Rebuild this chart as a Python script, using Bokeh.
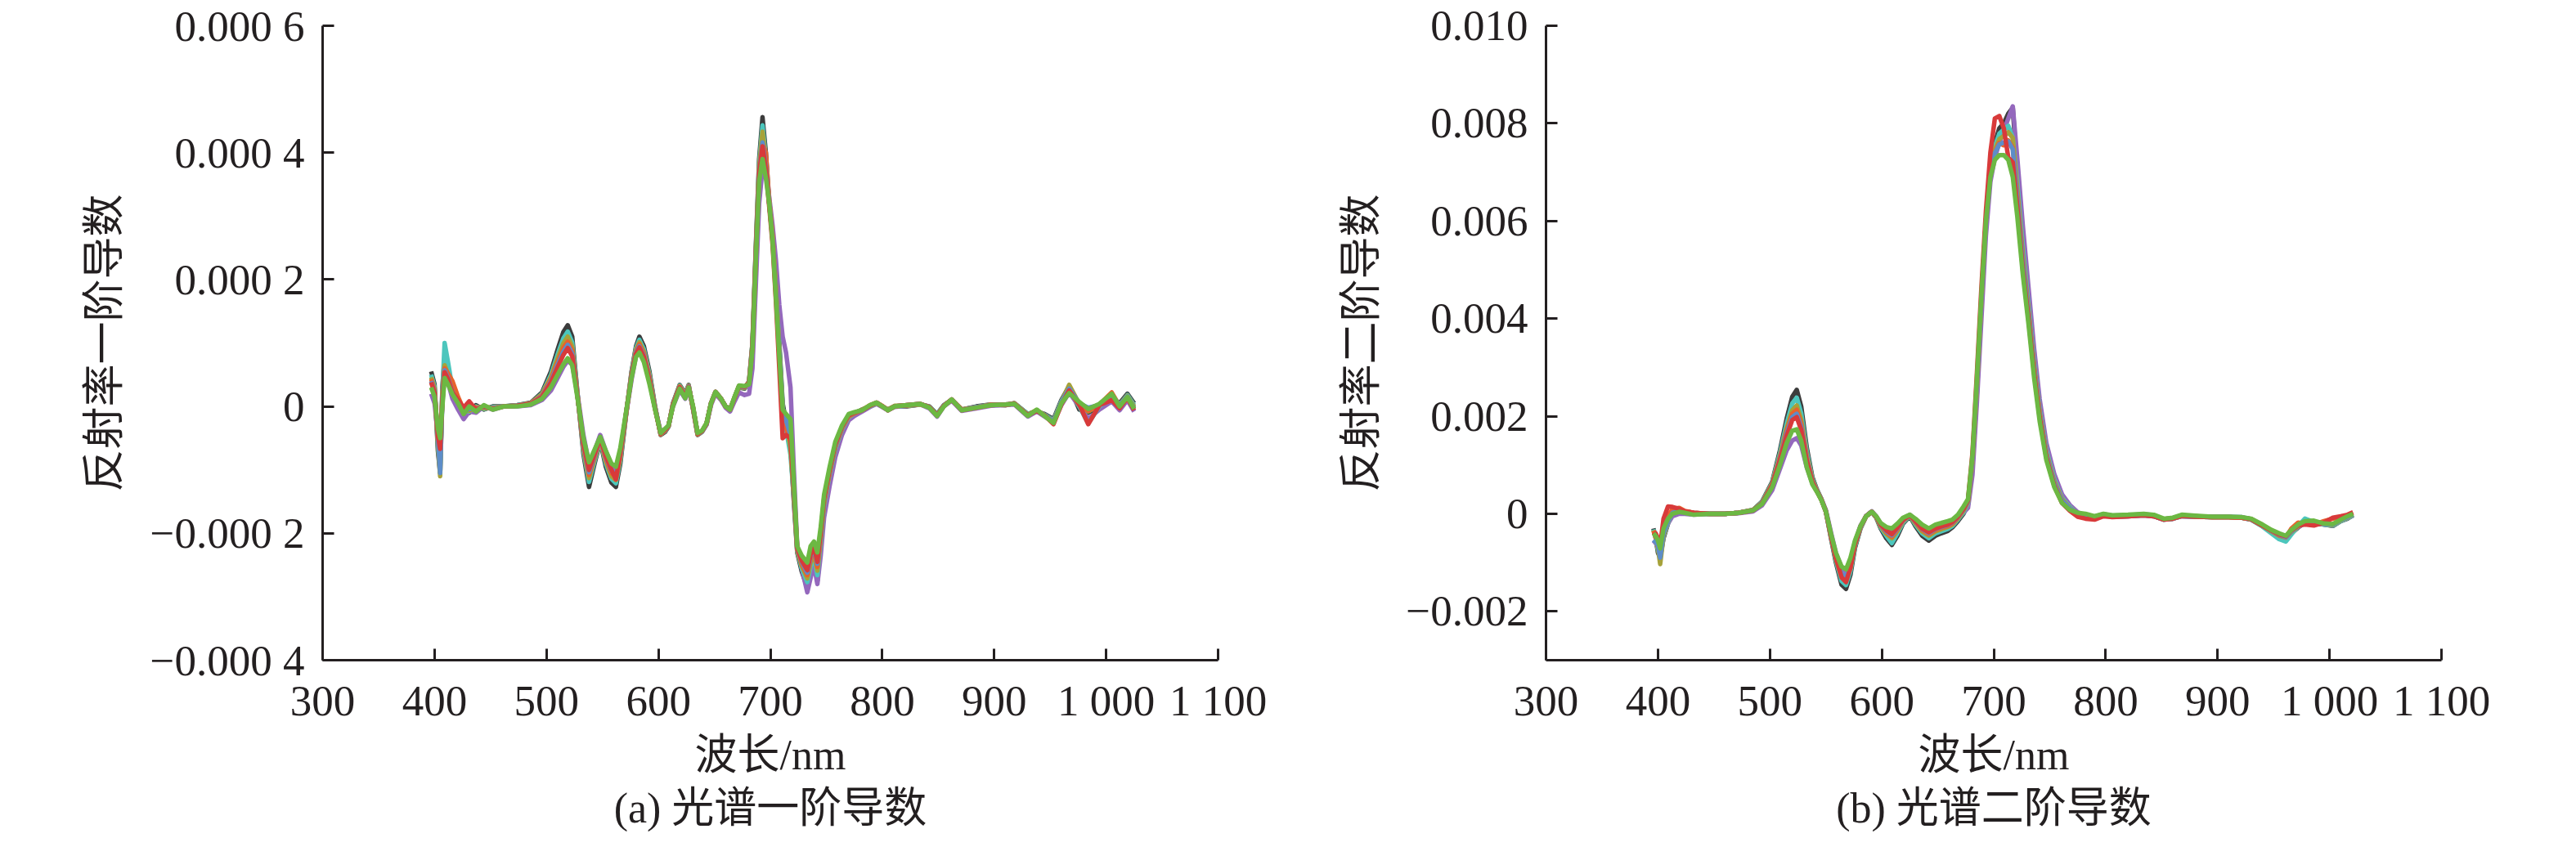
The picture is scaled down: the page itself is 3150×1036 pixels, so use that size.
from bokeh.plotting import figure
from bokeh.layouts import row
from bokeh.models import FixedTicker, Title
from bokeh.embed import file_html
from bokeh.resources import INLINE

# ---------------- data: panel (a) first derivative, values in units of 1e-4 ----------------
wl_a = [397, 400, 403, 405, 407, 409, 412, 416, 421, 426,
        431, 437, 444, 452, 462, 474, 486, 496, 504, 510,
        515, 519, 523, 528, 533, 538, 543, 548, 553, 558,
        562, 566, 571, 576, 580, 583, 587, 592, 597, 602,
        606, 609, 613, 619, 624, 627, 631, 635, 639, 643,
        647, 651, 656, 660, 664, 668, 672, 677, 681, 684,
        687, 690, 693, 696, 699, 702, 705, 708, 711, 714,
        718, 721, 724, 728, 733, 736, 739, 742, 745, 748,
        753, 758, 764, 770, 775, 782, 789, 795, 800, 805,
        811, 822, 834, 842, 849, 855, 862, 871, 884, 897,
        910, 918, 930, 938, 945, 953, 960, 967, 976, 984,
        994, 1005, 1012, 1019, 1025]

a_gray = [0.55, 0.35, -0.70, -1.05, 0.30, 0.75, 0.60, 0.30, 0.10, -0.05,
          -0.10, 0.02, -0.05, 0.00, 0.00, 0.02, 0.06, 0.22, 0.55, 0.90,
          1.17, 1.28, 1.10, 0.15, -0.75, -1.27, -0.90, -0.55, -0.95, -1.20,
          -1.27, -0.90, -0.15, 0.55, 0.95, 1.10, 0.95, 0.55, 0.00, -0.45,
          -0.40, -0.32, 0.05, 0.34, 0.20, 0.34, -0.05, -0.45, -0.40, -0.28,
          0.05, 0.22, 0.12, 0.00, -0.05, 0.12, 0.30, 0.28, 0.40, 1.00,
          2.50, 3.90, 4.56, 4.00, 3.20, 2.70, 1.90, 1.00, 0.05, -0.25,
          -0.60, -1.50, -2.30, -2.60, -2.85, -2.60, -2.40, -2.75, -2.20, -1.60,
          -1.10, -0.70, -0.38, -0.18, -0.12, -0.05, 0.00, 0.05, 0.00, -0.05,
          0.00, 0.00, 0.03, 0.00, -0.12, 0.02, 0.10, -0.05, 0.00, 0.03,
          0.02, 0.05, -0.12, -0.08, -0.12, -0.20, 0.10, 0.32, -0.05, -0.10,
          0.00, 0.12, 0.05, 0.20, 0.05]

a_purple = [0.20, 0.05, -0.45, -0.85, 0.05, 0.50, 0.38, 0.12, -0.05, -0.20,
            -0.08, -0.10, 0.00, -0.05, 0.00, 0.00, 0.02, 0.10, 0.25, 0.45,
            0.62, 0.72, 0.66, 0.16, -0.45, -0.90, -0.70, -0.45, -0.70, -0.92,
            -1.00, -0.72, -0.14, 0.42, 0.80, 0.90, 0.76, 0.40, -0.02, -0.40,
            -0.37, -0.30, 0.00, 0.26, 0.12, 0.27, -0.03, -0.42, -0.40, -0.29,
            0.02, 0.20, 0.10, -0.02, -0.08, 0.08, 0.22, 0.18, 0.20, 0.60,
            1.90, 3.20, 3.75, 3.70, 3.30, 2.85, 2.30, 1.60, 1.10, 0.85,
            0.30, -1.00, -2.20, -2.55, -2.93, -2.70, -2.50, -2.80, -2.35, -1.75,
            -1.25, -0.80, -0.45, -0.22, -0.15, -0.08, -0.01, 0.04, -0.01, -0.06,
            -0.01, 0.01, 0.03, -0.03, -0.16, 0.00, 0.09, -0.07, -0.03, 0.01,
            0.02, 0.03, -0.16, -0.08, -0.16, -0.25, 0.02, 0.22, 0.00, -0.20,
            -0.05, 0.08, -0.06, 0.10, -0.08]

a_cyan = [0.50, 0.31, -0.63, -0.94, 0.24, 1.00, 0.70, 0.28, 0.09, -0.06,
          -0.08, 0.00, -0.04, -0.01, 0.00, 0.02, 0.05, 0.20, 0.50, 0.82,
          1.07, 1.18, 1.01, 0.14, -0.70, -1.19, -0.86, -0.54, -0.90, -1.14,
          -1.21, -0.85, -0.14, 0.53, 0.92, 1.05, 0.90, 0.51, -0.01, -0.44,
          -0.39, -0.32, 0.04, 0.33, 0.19, 0.33, -0.04, -0.44, -0.40, -0.28,
          0.05, 0.22, 0.12, 0.00, -0.05, 0.13, 0.31, 0.29, 0.39, 0.98,
          2.46, 3.83, 4.43, 3.92, 3.20, 2.65, 1.85, 0.95, -0.02, -0.35,
          -0.76, -1.44, -2.28, -2.55, -2.77, -2.52, -2.35, -2.66, -2.14, -1.56,
          -1.07, -0.67, -0.36, -0.17, -0.11, -0.05, 0.00, 0.05, 0.00, -0.05,
          0.00, 0.01, 0.03, 0.00, -0.12, 0.02, 0.10, -0.05, -0.01, 0.03,
          0.02, 0.05, -0.12, -0.07, -0.13, -0.22, 0.08, 0.30, 0.00, -0.27,
          0.00, 0.15, 0.02, 0.18, 0.02]

a_olive = [0.46, 0.28, -0.58, -1.10, 0.20, 0.65, 0.51, 0.26, 0.08, -0.07,
           -0.07, -0.01, -0.03, -0.02, 0.00, 0.01, 0.05, 0.19, 0.46, 0.76,
           0.99, 1.10, 0.94, 0.13, -0.66, -1.13, -0.82, -0.53, -0.86, -1.10,
           -1.16, -0.81, -0.13, 0.52, 0.89, 1.01, 0.86, 0.48, -0.02, -0.44,
           -0.38, -0.31, 0.03, 0.32, 0.18, 0.33, -0.03, -0.44, -0.39, -0.27,
           0.05, 0.22, 0.12, 0.00, -0.05, 0.13, 0.31, 0.29, 0.38, 0.97,
           2.43, 3.78, 4.33, 3.86, 3.20, 2.65, 1.82, 0.90, -0.03, -0.24,
           -0.66, -1.40, -2.27, -2.51, -2.71, -2.46, -2.31, -2.59, -2.10, -1.53,
           -1.05, -0.65, -0.35, -0.16, -0.11, -0.05, 0.01, 0.05, 0.00, -0.05,
           0.01, 0.01, 0.03, -0.01, -0.13, 0.01, 0.10, -0.05, -0.01, 0.02,
           0.03, 0.04, -0.13, -0.06, -0.14, -0.23, 0.07, 0.34, 0.04, -0.08,
           0.02, 0.17, 0.03, 0.17, 0.00]

a_orange = [0.43, 0.25, -0.53, -0.78, 0.15, 0.60, 0.52, 0.40, 0.15, -0.05,
            -0.05, -0.03, 0.00, -0.03, 0.00, 0.01, 0.05, 0.17, 0.43, 0.70,
            0.92, 1.02, 0.88, 0.12, -0.63, -1.08, -0.79, -0.52, -0.83, -1.05,
            -1.11, -0.78, -0.13, 0.50, 0.87, 0.98, 0.83, 0.45, -0.03, -0.44,
            -0.38, -0.31, 0.03, 0.31, 0.17, 0.32, -0.03, -0.44, -0.39, -0.27,
            0.05, 0.23, 0.12, 0.00, -0.05, 0.14, 0.32, 0.30, 0.38, 0.95,
            2.40, 3.73, 4.15, 4.00, 3.25, 2.70, 1.85, 0.85, -0.05, -0.33,
            -0.55, -1.35, -2.25, -2.48, -2.66, -2.40, -2.27, -2.53, -2.05, -1.50,
            -1.03, -0.63, -0.34, -0.15, -0.11, -0.06, 0.02, 0.06, 0.01, -0.06,
            0.00, 0.02, 0.04, -0.01, -0.14, 0.01, 0.11, -0.05, -0.02, 0.03,
            0.02, 0.05, -0.14, -0.06, -0.14, -0.24, 0.06, 0.26, 0.02, -0.07,
            0.03, 0.22, 0.01, 0.12, -0.02]

a_blue = [0.40, 0.23, -0.49, -1.05, 0.12, 0.57, 0.45, 0.23, 0.07, -0.09,
          -0.04, -0.04, -0.01, -0.03, 0.00, 0.01, 0.04, 0.16, 0.40, 0.66,
          0.86, 0.97, 0.83, 0.12, -0.60, -1.04, -0.77, -0.51, -0.80, -1.02,
          -1.08, -0.75, -0.12, 0.49, 0.85, 0.95, 0.80, 0.43, -0.03, -0.43,
          -0.37, -0.31, 0.02, 0.30, 0.16, 0.32, -0.02, -0.43, -0.39, -0.27,
          0.05, 0.23, 0.12, 0.00, -0.05, 0.14, 0.32, 0.30, 0.37, 0.94,
          2.38, 3.69, 4.16, 3.76, 3.20, 2.62, 1.78, 0.85, -0.02, -0.22,
          -0.45, -1.32, -2.24, -2.45, -2.62, -2.36, -2.24, -2.48, -2.02, -1.47,
          -1.01, -0.62, -0.33, -0.14, -0.10, -0.06, 0.01, 0.06, 0.00, -0.06,
          0.00, 0.02, 0.04, -0.01, -0.14, 0.01, 0.11, -0.06, -0.01, 0.02,
          0.03, 0.04, -0.14, -0.07, -0.14, -0.24, 0.07, 0.28, 0.05, -0.02,
          0.02, 0.18, 0.02, 0.16, -0.03]

a_red = [0.38, 0.21, -0.46, -0.67, 0.09, 0.54, 0.43, 0.22, 0.10, -0.02,
         0.08, -0.05, 0.00, -0.04, 0.00, 0.01, 0.04, 0.15, 0.38, 0.62,
         0.81, 0.92, 0.79, 0.12, -0.58, -1.00, -0.75, -0.50, -0.78, -1.00,
         -1.15, -0.73, -0.12, 0.48, 0.83, 0.93, 0.78, 0.41, -0.04, -0.43,
         -0.37, -0.31, 0.02, 0.30, 0.15, 0.31, -0.02, -0.43, -0.39, -0.27,
         0.05, 0.23, 0.12, 0.00, -0.05, 0.14, 0.32, 0.31, 0.37, 0.93,
         2.36, 3.66, 4.10, 3.72, 3.15, 2.55, 1.65, 0.60, -0.50, -0.45,
         -0.50, -1.30, -2.23, -2.43, -2.58, -2.33, -2.21, -2.45, -1.99, -1.45,
         -1.00, -0.60, -0.32, -0.14, -0.10, -0.06, 0.01, 0.06, 0.00, -0.06,
         0.00, 0.02, 0.04, -0.01, -0.14, 0.01, 0.11, -0.06, -0.02, 0.02,
         0.03, 0.04, -0.14, -0.07, -0.14, -0.28, 0.03, 0.25, 0.03, -0.28,
         0.02, 0.10, -0.03, 0.14, -0.06]

a_green = [0.30, 0.15, -0.35, -0.50, 0.00, 0.45, 0.35, 0.19, 0.05, -0.12,
           0.00, -0.08, 0.02, -0.05, 0.00, 0.00, 0.03, 0.12, 0.30, 0.50,
           0.66, 0.76, 0.65, 0.10, -0.50, -0.88, -0.68, -0.48, -0.70, -0.90,
           -0.95, -0.65, -0.10, 0.45, 0.78, 0.85, 0.70, 0.35, -0.05, -0.42,
           -0.35, -0.30, 0.00, 0.28, 0.13, 0.30, 0.00, -0.42, -0.38, -0.26,
           0.05, 0.23, 0.12, 0.00, -0.05, 0.15, 0.33, 0.32, 0.35, 0.90,
           2.30, 3.55, 3.90, 3.60, 3.20, 2.60, 1.70, 0.80, -0.05, -0.12,
           -0.20, -1.20, -2.20, -2.35, -2.46, -2.20, -2.13, -2.30, -1.90, -1.39,
           -0.95, -0.56, -0.30, -0.12, -0.09, -0.06, 0.02, 0.06, 0.00, -0.06,
           0.00, 0.02, 0.04, -0.02, -0.15, 0.00, 0.11, -0.06, -0.02, 0.02,
           0.03, 0.04, -0.15, -0.05, -0.15, -0.26, 0.05, 0.21, 0.07, -0.04,
           0.04, 0.20, 0.00, 0.15, -0.04]

# ---------------- data: panel (b) second derivative, values in units of 1e-3 ----------------
wl_b = [396, 398, 400, 402, 405, 409, 413, 419, 424, 432,
        446, 460, 472, 485, 493, 502, 509, 515, 520, 524,
        528, 533, 538, 542, 546, 550, 555, 559, 564, 568,
        572, 576, 581, 586, 591, 595, 599, 604, 609, 614,
        619, 625, 630, 636, 642, 648, 653, 659, 663, 668,
        673, 677, 681, 685, 689, 693, 697, 701, 705, 709,
        713, 717, 721, 726, 731, 736, 741, 747, 754, 761,
        768, 775, 782, 790, 798, 806, 820, 834, 843, 852,
        860, 868, 880, 895, 910, 922, 930, 940, 948, 955,
        961, 966, 972, 978, 986, 995, 1003, 1010, 1016, 1021]

b_gray = [-0.30, -0.50, -0.80, -0.90, -0.50, -0.20, 0.05, 0.10, 0.05, 0.02,
          0.00, 0.00, 0.02, 0.08, 0.25, 0.65, 1.30, 1.95, 2.40, 2.54,
          2.20, 1.35, 0.75, 0.50, 0.30, 0.05, -0.55, -1.00, -1.45, -1.54,
          -1.25, -0.70, -0.30, -0.05, 0.04, -0.08, -0.30, -0.50, -0.64, -0.45,
          -0.20, -0.05, -0.25, -0.45, -0.55, -0.45, -0.40, -0.35, -0.28, -0.15,
          0.00, 0.20, 1.00, 2.50, 4.30, 6.00, 7.10, 7.60, 7.90, 8.00,
          8.20, 8.32, 7.00, 5.60, 4.40, 3.20, 2.20, 1.35, 0.75, 0.35,
          0.15, 0.00, -0.05, -0.08, -0.02, -0.06, -0.05, -0.03, -0.05, -0.12,
          -0.10, -0.05, -0.06, -0.07, -0.07, -0.08, -0.12, -0.25, -0.38, -0.48,
          -0.52, -0.40, -0.28, -0.18, -0.20, -0.22, -0.25, -0.15, -0.10, -0.03]

b_purple = [-0.55, -0.60, -0.70, -0.80, -0.45, -0.20, -0.05, 0.00, 0.00, -0.02,
            0.00, 0.00, 0.01, 0.05, 0.17, 0.48, 0.92, 1.30, 1.50, 1.55,
            1.40, 0.95, 0.62, 0.46, 0.30, 0.08, -0.42, -0.80, -1.10, -1.20,
            -0.98, -0.58, -0.24, -0.04, 0.05, -0.05, -0.20, -0.30, -0.36, -0.24,
            -0.10, -0.02, -0.12, -0.25, -0.33, -0.26, -0.22, -0.19, -0.16, -0.08,
            0.02, 0.12, 0.80, 2.30, 4.00, 5.70, 6.80, 7.30, 7.60, 7.85,
            8.10, 8.35, 7.30, 5.90, 4.65, 3.40, 2.35, 1.45, 0.82, 0.40,
            0.18, 0.03, -0.03, -0.06, -0.02, -0.05, -0.05, -0.03, -0.05, -0.12,
            -0.10, -0.05, -0.06, -0.07, -0.07, -0.08, -0.12, -0.25, -0.37, -0.46,
            -0.50, -0.38, -0.27, -0.19, -0.19, -0.22, -0.24, -0.15, -0.09, -0.04]

b_cyan = [-0.32, -0.49, -0.75, -0.86, -0.46, -0.18, 0.04, 0.09, 0.04, 0.01,
          0.00, 0.00, 0.02, 0.08, 0.24, 0.63, 1.24, 1.85, 2.26, 2.38,
          2.06, 1.27, 0.72, 0.49, 0.30, 0.05, -0.53, -0.96, -1.38, -1.46,
          -1.18, -0.67, -0.29, -0.05, 0.04, -0.07, -0.28, -0.45, -0.60, -0.40,
          -0.18, -0.04, -0.22, -0.40, -0.50, -0.40, -0.36, -0.31, -0.25, -0.12,
          0.03, 0.22, 1.10, 2.65, 4.40, 6.00, 7.06, 7.53, 7.79, 7.87,
          7.95, 7.70, 6.80, 5.46, 4.30, 3.12, 2.14, 1.30, 0.71, 0.32,
          0.14, 0.00, -0.04, -0.07, -0.02, -0.05, -0.04, -0.02, -0.04, -0.12,
          -0.10, -0.04, -0.06, -0.07, -0.07, -0.08, -0.12, -0.26, -0.40, -0.52,
          -0.57, -0.42, -0.25, -0.10, -0.17, -0.22, -0.24, -0.15, -0.09, -0.03]

b_olive = [-0.34, -0.48, -0.70, -1.03, -0.45, -0.16, 0.03, 0.08, 0.04, 0.00,
           0.00, 0.00, 0.02, 0.08, 0.23, 0.61, 1.18, 1.75, 2.12, 2.22,
           1.92, 1.19, 0.69, 0.48, 0.29, 0.05, -0.51, -0.92, -1.30, -1.38,
           -1.11, -0.64, -0.28, -0.05, 0.04, -0.07, -0.26, -0.41, -0.50, -0.35,
           -0.15, -0.04, -0.19, -0.36, -0.45, -0.36, -0.32, -0.27, -0.22, -0.10,
           0.06, 0.24, 1.08, 2.62, 4.38, 6.00, 7.02, 7.46, 7.68, 7.74,
           7.82, 7.70, 6.65, 5.32, 4.20, 3.04, 2.08, 1.25, 0.67, 0.30,
           0.12, 0.01, -0.03, -0.07, -0.01, -0.05, -0.04, -0.02, -0.04, -0.11,
           -0.09, -0.04, -0.05, -0.07, -0.07, -0.08, -0.11, -0.24, -0.36, -0.45,
           -0.49, -0.37, -0.26, -0.17, -0.18, -0.21, -0.23, -0.14, -0.08, -0.02]

b_orange = [-0.35, -0.47, -0.68, -0.80, -0.40, -0.05, 0.10, 0.12, 0.06, 0.02,
            0.00, 0.00, 0.02, 0.07, 0.22, 0.60, 1.15, 1.70, 2.05, 2.13,
            1.85, 1.15, 0.68, 0.47, 0.29, 0.05, -0.50, -0.90, -1.26, -1.34,
            -1.08, -0.62, -0.27, -0.05, 0.04, -0.06, -0.24, -0.38, -0.47, -0.32,
            -0.14, -0.03, -0.17, -0.33, -0.42, -0.33, -0.29, -0.25, -0.20, -0.08,
            0.08, 0.25, 1.10, 2.65, 4.40, 6.00, 7.00, 7.40, 7.60, 7.55,
            7.65, 7.50, 6.55, 5.25, 4.15, 3.00, 2.05, 1.22, 0.65, 0.28,
            0.11, 0.01, -0.06, -0.09, -0.03, -0.05, -0.04, -0.02, -0.04, -0.11,
            -0.09, -0.04, -0.05, -0.07, -0.07, -0.08, -0.11, -0.24, -0.35, -0.44,
            -0.48, -0.30, -0.18, -0.20, -0.22, -0.15, -0.10, -0.08, -0.03, 0.02]

b_blue = [-0.60, -0.55, -0.65, -0.90, -0.40, -0.15, 0.02, 0.06, 0.03, 0.00,
          0.00, 0.00, 0.02, 0.07, 0.22, 0.58, 1.12, 1.65, 1.98, 2.05,
          1.78, 1.11, 0.66, 0.47, 0.29, 0.05, -0.49, -0.88, -1.23, -1.30,
          -1.04, -0.61, -0.27, -0.05, 0.04, -0.06, -0.23, -0.36, -0.44, -0.30,
          -0.13, -0.03, -0.16, -0.31, -0.40, -0.31, -0.27, -0.23, -0.18, -0.07,
          0.09, 0.26, 1.12, 2.68, 4.42, 6.00, 6.98, 7.39, 7.57, 7.61,
          7.63, 7.47, 6.46, 5.18, 4.10, 2.96, 2.02, 1.20, 0.63, 0.27,
          0.11, 0.01, -0.02, -0.06, -0.01, -0.04, -0.03, -0.01, -0.03, -0.11,
          -0.09, -0.03, -0.05, -0.06, -0.06, -0.07, -0.11, -0.23, -0.35, -0.43,
          -0.48, -0.36, -0.24, -0.16, -0.16, -0.21, -0.22, -0.13, -0.07, -0.01]

b_red = [-0.45, -0.40, -0.50, -0.65, -0.10, 0.15, 0.14, 0.10, 0.05, 0.02,
         0.00, 0.00, 0.02, 0.07, 0.21, 0.58, 1.10, 1.60, 1.92, 1.98,
         1.72, 1.08, 0.65, 0.46, 0.29, 0.05, -0.50, -0.90, -1.30, -1.40,
         -1.10, -0.62, -0.26, -0.05, 0.04, -0.06, -0.22, -0.34, -0.42, -0.28,
         -0.12, -0.03, -0.15, -0.30, -0.38, -0.30, -0.26, -0.22, -0.17, -0.06,
         0.10, 0.28, 1.25, 2.90, 4.65, 6.20, 7.40, 8.10, 8.15, 7.90,
         7.30, 7.20, 6.30, 5.00, 4.00, 2.90, 1.98, 1.15, 0.58, 0.22,
         0.06, -0.06, -0.10, -0.12, -0.05, -0.07, -0.05, -0.03, -0.05, -0.12,
         -0.10, -0.04, -0.06, -0.07, -0.07, -0.08, -0.11, -0.24, -0.34, -0.42,
         -0.46, -0.34, -0.24, -0.22, -0.24, -0.18, -0.08, -0.05, -0.02, 0.03]

b_green = [-0.40, -0.45, -0.55, -0.71, -0.30, -0.10, 0.00, 0.04, 0.02, -0.02,
           0.00, 0.00, 0.02, 0.07, 0.20, 0.54, 1.00, 1.45, 1.70, 1.73,
           1.50, 0.95, 0.60, 0.45, 0.28, 0.05, -0.45, -0.80, -1.08, -1.14,
           -0.90, -0.55, -0.25, -0.05, 0.04, -0.05, -0.19, -0.27, -0.30, -0.20,
           -0.08, -0.02, -0.10, -0.22, -0.30, -0.22, -0.19, -0.15, -0.12, -0.02,
           0.15, 0.30, 1.20, 2.80, 4.50, 6.00, 6.90, 7.25, 7.35, 7.35,
           7.25, 6.90, 6.10, 4.90, 3.90, 2.80, 1.90, 1.10, 0.55, 0.22,
           0.08, 0.02, 0.00, -0.05, 0.00, -0.03, -0.02, 0.00, -0.02, -0.10,
           -0.08, -0.02, -0.04, -0.06, -0.06, -0.07, -0.10, -0.22, -0.33, -0.40,
           -0.45, -0.33, -0.22, -0.15, -0.14, -0.20, -0.21, -0.12, -0.05, 0.00]

# ---------------- axes / labels ----------------
x_ticks = [300, 400, 500, 600, 700, 800, 900, 1000, 1100]
x_tick_labels = ["300", "400", "500", "600", "700", "800", "900", "1 000", "1 100"]

ya_ticks = [-4, -2, 0, 2, 4, 6]                      # units of 1e-4
ya_tick_labels = ["\u22120.000 4", "\u22120.000 2", "0", "0.000 2", "0.000 4", "0.000 6"]
yb_ticks = [-2, 0, 2, 4, 6, 8, 10]                    # units of 1e-3
yb_tick_labels = ["\u22120.002", "0", "0.002", "0.004", "0.006", "0.008", "0.010"]

x_label = "波长/nm"
ya_label = "反射率一阶导数"
yb_label = "反射率二阶导数"
cap_a = "(a) 光谱一阶导数"
cap_b = "(b) 光谱二阶导数"

series_names = ["gray", "purple", "cyan", "olive", "orange", "blue", "red", "green"]
colors = {"gray": "#3c3c3c", "purple": "#9468bd", "cyan": "#4cc6bd", "olive": "#a6a23a",
          "orange": "#e8622c", "blue": "#5d8dc8", "red": "#d83a3a", "green": "#6cb843"}

a_series = {"gray": a_gray, "purple": a_purple, "cyan": a_cyan, "olive": a_olive,
            "orange": a_orange, "blue": a_blue, "red": a_red, "green": a_green}
b_series = {"gray": b_gray, "purple": b_purple, "cyan": b_cyan, "olive": b_olive,
            "orange": b_orange, "blue": b_blue, "red": b_red, "green": b_green}

INK = "#231f20"
NUM_FONT = "Liberation Serif"
TXT_FONT = "'Liberation Serif', 'Noto Sans CJK SC'"
TICK_SIZE = "53px"
TXT_SIZE = "52px"

FIG_W, FIG_H = 1567, 1020
FRAME_W, FRAME_H = 1095, 776
TOP = 31


def make_panel(wl, series, y_range, y_ticks, y_labels, ylab, cap, left, ylab_standoff, cap_offset):
    p = figure(width=FIG_W, height=FIG_H, x_range=(300, 1100), y_range=y_range,
               output_backend="svg", toolbar_location=None,
               min_border_left=left, min_border_right=FIG_W - left - FRAME_W,
               min_border_top=TOP, min_border_bottom=FIG_H - TOP - FRAME_H)
    p.outline_line_color = None
    p.grid.visible = False
    p.background_fill_color = "white"
    p.border_fill_color = "white"

    for name in series_names:
        p.line(wl, series[name], line_color=colors[name], line_width=5.5, line_join="round")

    xa = p.xaxis[0]
    xa.ticker = FixedTicker(ticks=x_ticks)
    xa.major_label_overrides = dict(zip(x_ticks, x_tick_labels))
    ya = p.yaxis[0]
    ya.ticker = FixedTicker(ticks=y_ticks)
    ya.major_label_overrides = dict(zip(y_ticks, y_labels))
    for ax in (xa, ya):
        ax.axis_line_color = INK
        ax.axis_line_width = 3
        ax.major_tick_line_color = INK
        ax.major_tick_line_width = 3
        ax.major_tick_in = 14
        ax.major_tick_out = 0
        ax.minor_tick_line_color = None
        ax.major_label_text_font = NUM_FONT
        ax.major_label_text_font_size = TICK_SIZE
        ax.major_label_text_color = INK
        ax.axis_label_text_font = TXT_FONT
        ax.axis_label_text_font_size = TXT_SIZE
        ax.axis_label_text_font_style = "normal"
        ax.axis_label_text_color = INK
    xa.major_label_standoff = 20
    ya.major_label_standoff = 22
    xa.axis_label = x_label
    xa.axis_label_standoff = 6
    ya.axis_label = ylab
    ya.axis_label_standoff = ylab_standoff

    p.add_layout(Title(text=cap, align="center", offset=cap_offset, standoff=7,
                       text_font=TXT_FONT, text_font_size=TXT_SIZE,
                       text_font_style="normal", text_color=INK), "below")
    return p


pa = make_panel(wl_a, a_series, (-4, 6), ya_ticks, ya_tick_labels, ya_label, cap_a,
                left=394, ylab_standoff=25, cap_offset=23)
pb = make_panel(wl_b, b_series, (-3, 10), yb_ticks, yb_tick_labels, yb_label, cap_b,
                left=323, ylab_standoff=23, cap_offset=0)

layout = row(pa, pb)
open("out.html", "w").write(file_html(layout, INLINE))
